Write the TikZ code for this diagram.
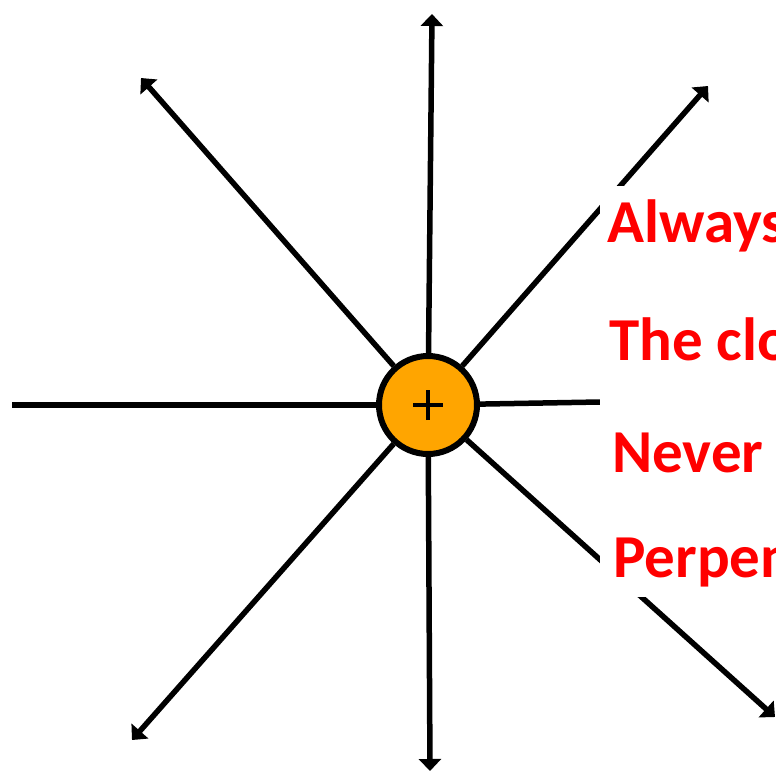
\documentclass[tikz,border=0pt]{standalone}
\usepackage{fontspec}
\setmainfont{Carlito}
\usetikzlibrary{arrows.meta,positioning}
\definecolor{hubfill}{RGB}{255,165,0}
\definecolor{notered}{RGB}{255,0,0}
\tikzset{
  hub/.style={circle, draw=black, line width=6pt, fill=hubfill,
              minimum size=98pt, inner sep=0pt},
  ray/.style={line width=5.5pt, -{Triangle[width=22pt,length=12pt]}},
  rayplain/.style={line width=5.5pt},
  note/.style={anchor=base west, inner sep=0pt, text=notered,
               font=\fontsize{61}{70}\selectfont\bfseries},
}

\begin{document}
\begin{tikzpicture}[x=1pt,y=-1pt]
\clip (0,0) rectangle (776,773);
\fill[white] (0,0) rectangle (776,773);

% ===================== the charge and its field lines ====================
\node[hub] (c) at (428,405) {};
\coordinate (n)  at (432,14);
\coordinate (ne) at (708,86);
\coordinate (e)  at (600,402);
\coordinate (se) at (775,717);
\coordinate (s)  at (430,771);
\coordinate (sw) at (132,740);
\coordinate (w)  at (12,405);
\coordinate (nw) at (141,78);

\foreach \p in {n,ne,se,s,sw,nw}
  \draw[ray] (c) -- (\p);
\draw[rayplain] (c) -- (e);
\draw[rayplain] (c) -- (w);

% the plus sign
\draw[line width=4pt] ([xshift=-15pt]c.center) -- ([xshift=15pt]c.center);
\draw[line width=4pt] ([yshift=-15pt]c.center) -- ([yshift=15pt]c.center);

% ===================== the notes (cut at the right edge) =================
\fill[white] (600,186) rectangle (780,597);
\node[note] (t1) at (607,242) {Always};
\node[note] (t2) at (609,360) {The closer};
\node[note] (t3) at (612,472) {Never};
\node[note] (t4) at (613,577) {Perpendicular};

\end{tikzpicture}
\end{document}
